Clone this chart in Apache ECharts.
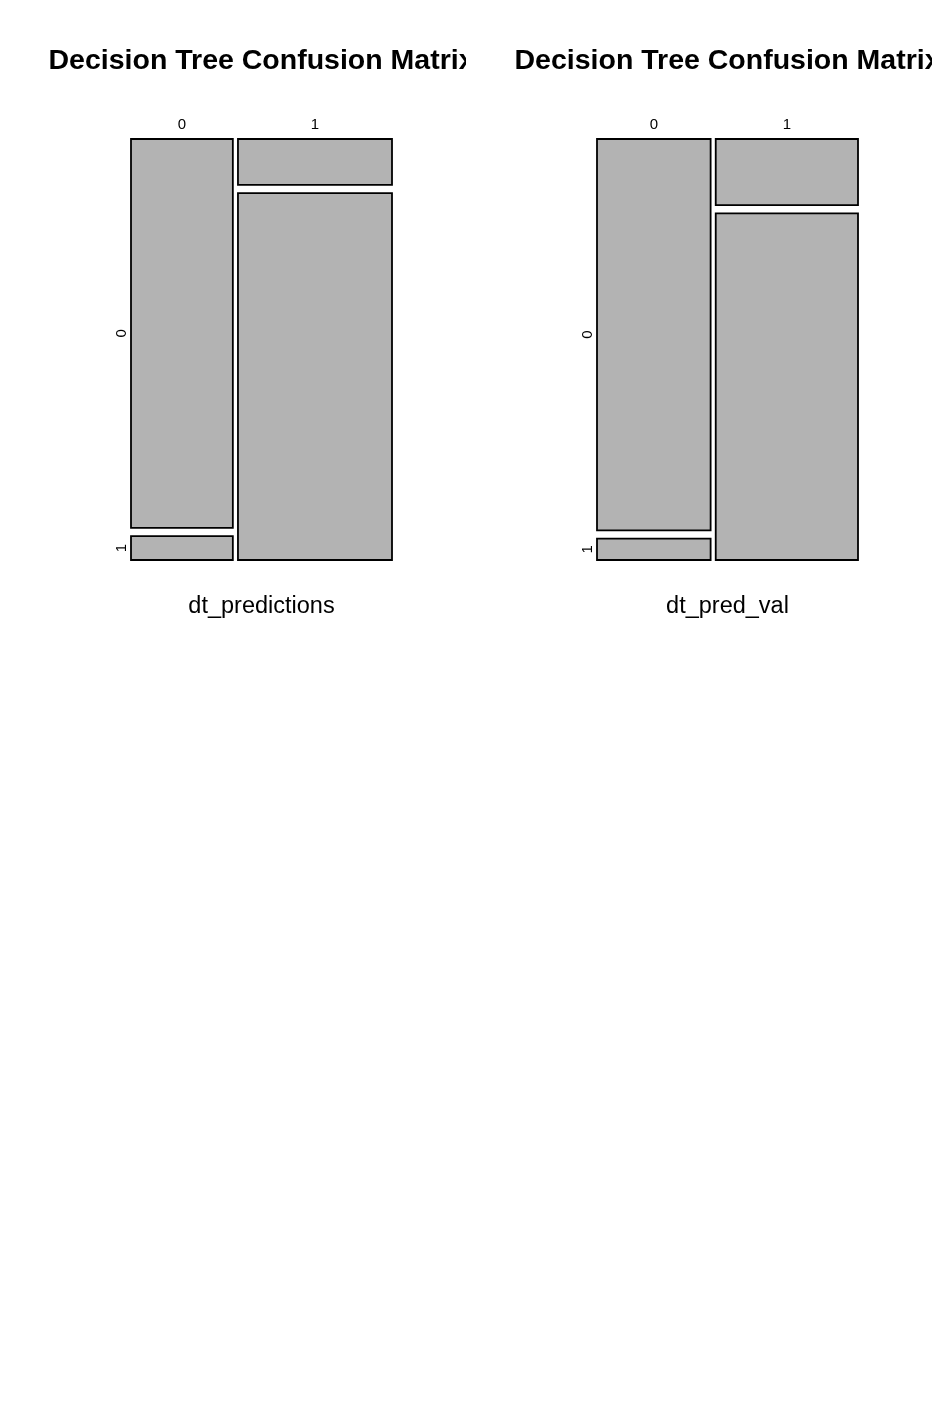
<!DOCTYPE html>
<html>
<head>
<meta charset="utf-8">
<script src="https://cdn.jsdelivr.net/npm/echarts@6/dist/echarts.min.js"></script>
<style>
html,body{margin:0;padding:0;background:#fff;}
#chart{width:932px;height:1414px;}
</style>
</head>
<body>
<div id="chart"></div>
<script>
// ---- data ----
const categories = ['0', '1'];
const panelTitles = ['Decision Tree Confusion Matrix', 'Decision Tree Confusion Matrix'];
const xLabels = ['dt_predictions', 'dt_pred_val'];
// counts[predicted][actual]
const countsPredictions = [[375, 23], [67, 535]];
const countsPredVal = [[421, 23], [89, 467]];

const GAP = 0.02;
const FONT = '"Liberation Sans", Arial, sans-serif';

function mosaic(counts) {
  const total = counts.reduce((s, c) => s + c.reduce((a, b) => a + b, 0), 0);
  const rects = [];
  const labels = [];
  let x = 0;
  counts.forEach((col, i) => {
    const colTotal = col.reduce((a, b) => a + b, 0);
    const w = colTotal / total;
    let y = 0;
    labels.push([x + w / 2, 0, 0, i]);
    col.forEach((v, j) => {
      const h = v / colTotal;
      rects.push([x, x + w, y, y + h]);
      if (i === 0) labels.push([0, y + h / 2, 1, j]);
      y += h + GAP;
    });
    x += w + GAP;
  });
  return { rects, labels };
}

const panels = [mosaic(countsPredictions), mosaic(countsPredVal)];

const chart = echarts.init(document.getElementById('chart'));

const grids = [
  { left: 131, top: 139, width: 261, height: 421 },
  { left: 597, top: 139, width: 261, height: 421 }
];

function rectItem(params, api) {
  const p0 = api.coord([api.value(0), api.value(2)]);
  const p1 = api.coord([api.value(1), api.value(3)]);
  return {
    type: 'rect',
    shape: { x: p0[0], y: p0[1], width: p1[0] - p0[0], height: p1[1] - p0[1] },
    style: { fill: '#b3b3b3', stroke: '#000', lineWidth: 1.8 }
  };
}

function labelItem(params, api) {
  const kind = api.value(2);
  const txt = categories[api.value(3)];
  const p = api.coord([api.value(0), api.value(1)]);
  if (kind === 0) {
    return {
      type: 'text',
      x: p[0], y: p[1] - 14.5,
      style: { text: txt, fontSize: 15, fontFamily: FONT, fill: '#000', align: 'center', verticalAlign: 'middle' }
    };
  }
  return {
    type: 'text',
    x: p[0] - 9.5, y: p[1],
    rotation: Math.PI / 2,
    style: { text: txt, fontSize: 15, fontFamily: FONT, fill: '#000', align: 'center', verticalAlign: 'middle' }
  };
}

const series = [];
panels.forEach((pn, k) => {
  series.push({
    type: 'custom', xAxisIndex: k, yAxisIndex: k, silent: true, clip: false,
    renderItem: rectItem, encode: { x: [0, 1], y: [2, 3] }, data: pn.rects, animation: false
  });
  series.push({
    type: 'custom', xAxisIndex: k, yAxisIndex: k, silent: true, clip: false,
    renderItem: labelItem, encode: { x: 0, y: 1 }, data: pn.labels, animation: false
  });
});

const graphics = [];
grids.forEach((g, k) => {
  const cx = g.left + g.width / 2;
  graphics.push({
    type: 'text', x: cx, y: 61.5, z: 10,
    style: { text: panelTitles[k], fontSize: 28.5, fontWeight: 'bold', fontFamily: FONT, fill: '#000', align: 'center', verticalAlign: 'middle' }
  });
  graphics.push({
    type: 'text', x: cx, y: 607, z: 10,
    style: { text: xLabels[k], fontSize: 23.5, fontFamily: FONT, fill: '#000', align: 'center', verticalAlign: 'middle' }
  });
});
// clip of left title at the figure-region boundary
graphics.push({ type: 'rect', z: 20, shape: { x: 466, y: 30, width: 46, height: 60 }, style: { fill: '#fff' } });

chart.setOption({
  backgroundColor: '#fff',
  animation: false,
  grid: grids,
  xAxis: grids.map((g, k) => ({ type: 'value', gridIndex: k, min: 0, max: 1 + GAP, show: false })),
  yAxis: grids.map((g, k) => ({ type: 'value', gridIndex: k, min: 0, max: 1 + GAP, inverse: true, show: false })),
  graphic: graphics,
  series: series
});
</script>
</body>
</html>
